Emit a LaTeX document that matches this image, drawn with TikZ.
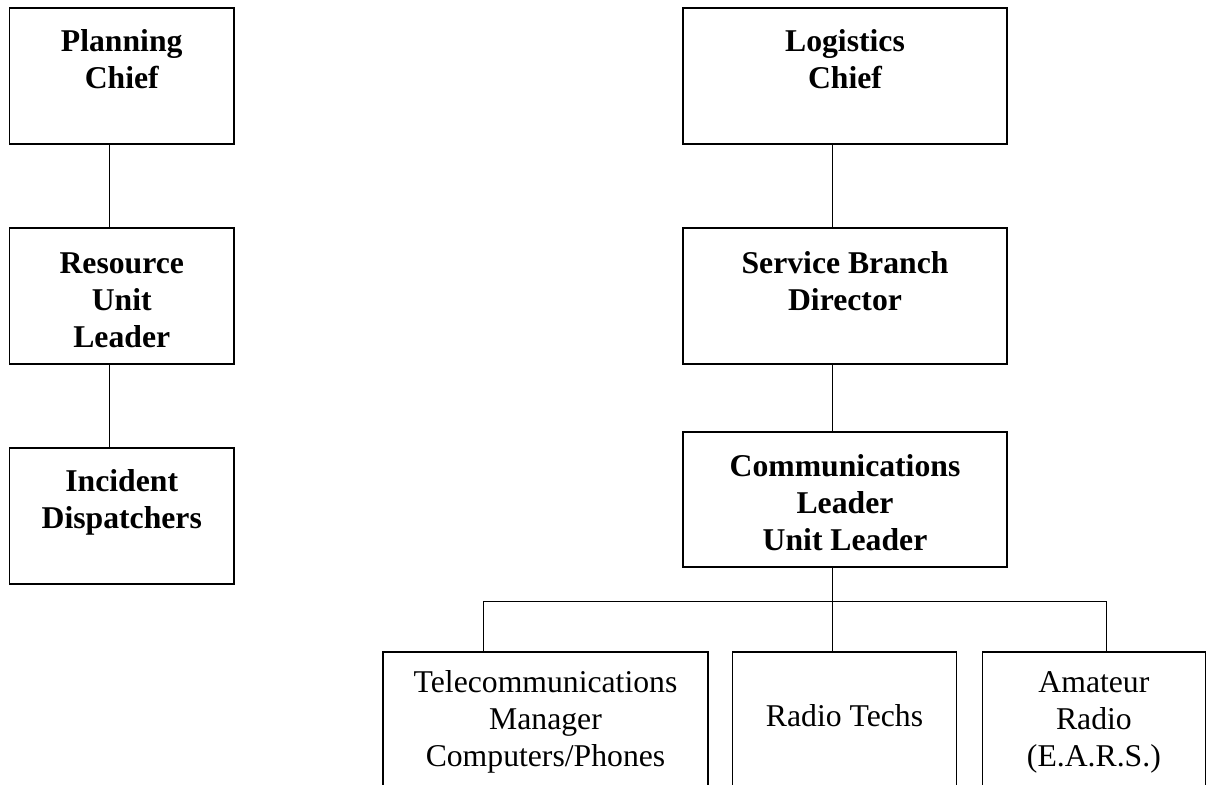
\documentclass[tikz,border=0pt]{standalone}
\usepackage{fontspec}
\setmainfont{Liberation Serif}
\begin{document}
\begin{tikzpicture}[x=1pt,y=-1pt,
  box/.style={draw, line width=1.2pt, inner sep=0pt, minimum width=224.5pt, minimum height=136pt},
  wbox/.style={box, minimum width=324pt},
  lbl/.style={align=center, inner sep=0pt, font=\fontsize{31.7}{37}\selectfont\bfseries},
  rlbl/.style={align=center, inner sep=0pt, font=\fontsize{31.7}{37}\selectfont},
  conn/.style={line width=0.9pt}]
\useasboundingbox (0,0) rectangle (1206,784);
\clip (0,0) rectangle (1206,784);
% left column
\node[box] (pc) at (121.75,76) {};
\node[box] (rul) at (121.75,296) {};
\node[box] (idp) at (121.75,516) {};
\node[lbl] (pct) at (121.75,59.5) {Planning\\Chief};
\node[lbl] (rult) at (121.75,300) {Resource\\Unit\\Leader};
\node[lbl] (idpt) at (121.75,502) {Incident\\Dispatchers};
\coordinate (lspine) at (109.3,0);
\draw[conn] (pc.south -| lspine) -- (rul.north -| lspine);
\draw[conn] (rul.south -| lspine) -- (idp.north -| lspine);
% right column
\node[wbox] (lc) at (845,76) {};
\node[wbox] (sbd) at (845,296) {};
\node[wbox, minimum height=135pt] (cul) at (845,499.5) {};
\node[lbl] (lct) at (845,59.5) {Logistics\\Chief};
\node[lbl] (sbdt) at (845,281.5) {Service Branch\\Director};
\node[lbl] (cult) at (845,503) {Communications\\Leader\\Unit Leader};
\coordinate (rspine) at (832.3,0);
\draw[conn] (lc.south -| rspine) -- (sbd.north -| rspine);
\draw[conn] (sbd.south -| rspine) -- (cul.north -| rspine);
% bottom row
\node[box, minimum width=325pt, minimum height=140pt] (tm) at (545.5,722) {};
\node[box, minimum height=140pt] (rt) at (844.5,722) {};
\node[box, minimum width=223.5pt, minimum height=140pt] (ar) at (1093.9,722) {};
\node[rlbl] (tmt) at (545.5,722) {Telecommunications\\Manager\\Computers/Phones};
\node[rlbl] (rtt) at (844.5,716) {Radio Techs};
\node[rlbl] (art) at (1093.9,722) {Amateur\\Radio\\(E.A.R.S.)};
\coordinate (bus) at (0,601);
\coordinate (tmx) at (483.3,0);
\coordinate (arx) at (1106.7,0);
\draw[conn] (cul.south -| rspine) -- (bus -| rspine) -- (tm.north -| rspine);
\draw[conn] (tm.north -| tmx) -- (bus -| tmx) -- (bus -| arx) -- (ar.north -| arx);
\draw[conn] (rt.north -| rspine) -- (bus -| rspine);
\end{tikzpicture}
\end{document}
